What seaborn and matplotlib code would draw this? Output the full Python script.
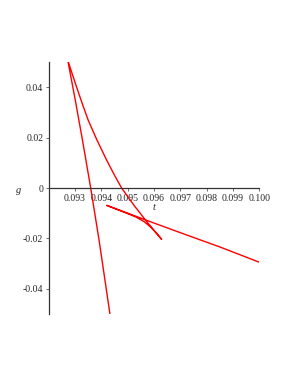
import numpy as np
import pandas as pd
import matplotlib
matplotlib.use("Agg")
import matplotlib.pyplot as plt
import seaborn as sns

# curve traced in pieces: steep branch, upper branch to first cusp,
# back to second cusp, then the tail running out to the right
t_steep = [0.094329, 0.093915, 0.093595, 0.093283, 0.093009, 0.092722]
g_steep = [-0.05026, -0.02080, 0.0, 0.01897, 0.03487, 0.05078]

t_upper = [0.092722, 0.092908, 0.093098, 0.093295, 0.093500, 0.093835,
           0.094203, 0.094500, 0.094769, 0.095240, 0.095715, 0.096292]
g_upper = [0.05078, 0.04481, 0.03885, 0.03288, 0.02692, 0.01897,
           0.01101, 0.00505, 0.0, -0.00688, -0.01324, -0.02040]

t_loop = [0.096292, 0.096114, 0.095886, 0.095620, 0.095316, 0.094936, 0.094557, 0.094203]
g_loop = [-0.02040, -0.01821, -0.01563, -0.01332, -0.01153, -0.00990, -0.00835, -0.00688]

t_tail = [0.094203, 0.094557, 0.094936, 0.095723, 0.096988, 0.098507, 0.100000]
g_tail = [-0.00688, -0.00827, -0.00974, -0.01284, -0.01769, -0.02342, -0.02946]

x_ticks = [0.093, 0.094, 0.095, 0.096, 0.097, 0.098, 0.099, 0.100]
x_tick_labels = ["0.093", "0.094", "0.095", "0.096", "0.097", "0.098", "0.099", "0.100"]
y_ticks = [-0.04, -0.02, 0.0, 0.02, 0.04]
y_tick_labels = ["-0.04", "-0.02", "0", "0.02", "0.04"]


def build_frame():
    t = t_steep + t_upper[1:] + t_loop[1:] + t_tail[1:]
    g = g_steep + g_upper[1:] + g_loop[1:] + g_tail[1:]
    return pd.DataFrame({"t": t, "g": g, "order": np.arange(len(t))})


def main():
    sns.set_theme(style="white")
    plt.rcParams["font.family"] = ["Liberation Serif", "DejaVu Serif"]
    plt.rcParams["axes.unicode_minus"] = False

    data = build_frame()

    fig = plt.figure(figsize=(2.91, 3.76), dpi=100)
    ax = fig.add_axes([0.1674, 0.1649, 0.7237, 0.6702])

    sns.lineplot(data=data, x="t", y="g", sort=False, estimator=None,
                 color="red", linewidth=1.0, ax=ax)

    ax.set_xlim(0.092, 0.100)
    ax.set_ylim(-0.05, 0.05)

    # axes cross at g = 0 like the original
    ax.spines["bottom"].set_position(("data", 0))
    ax.spines["top"].set_visible(False)
    ax.spines["right"].set_visible(False)
    for side in ["left", "bottom"]:
        ax.spines[side].set_color("#333333")
        ax.spines[side].set_linewidth(0.9)

    ax.set_xticks(x_ticks)
    ax.set_xticklabels(x_tick_labels)
    ax.set_yticks(y_ticks)
    ax.set_yticklabels(y_tick_labels)
    ax.tick_params(axis="both", labelsize=7, length=2.5, width=0.6,
                   color="#555555", pad=1.5, direction="out")
    ax.tick_params(axis="x", bottom=True)
    ax.tick_params(axis="y", left=True)

    ax.set_xlabel("")
    ax.set_ylabel("")
    # labels sit on the g = 0 line: x in axes fraction, y in data
    ax.annotate("t", xy=(0.5, 0), xycoords=ax.get_yaxis_transform(),
                xytext=(0, -14), textcoords="offset points",
                ha="center", va="center", fontsize=7.5, style="italic")
    ax.annotate("g", xy=(0, 0), xycoords=ax.get_yaxis_transform(),
                xytext=(-22, -1.5), textcoords="offset points",
                ha="center", va="center", fontsize=7.5, style="italic")

    fig.savefig("out.png", dpi=100)


if __name__ == "__main__":
    main()
